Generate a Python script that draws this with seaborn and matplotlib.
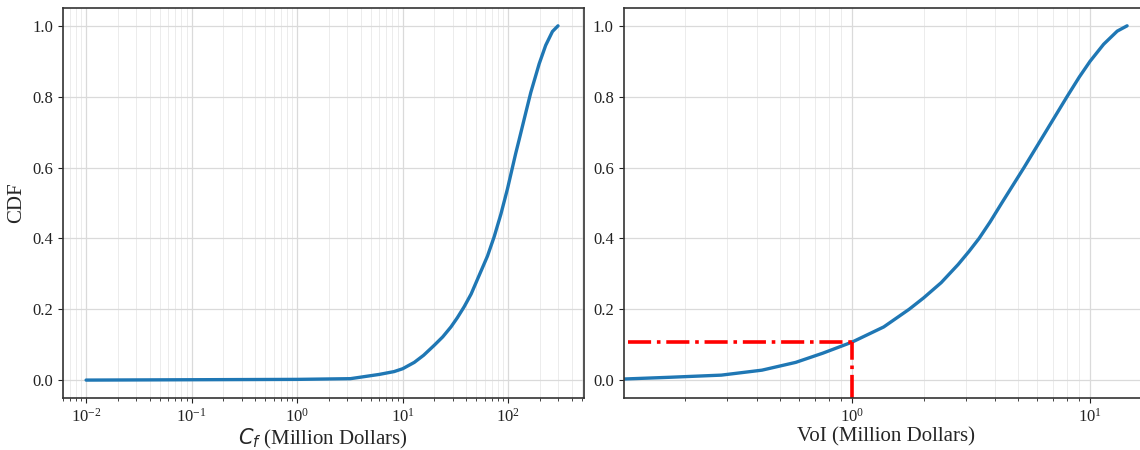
import numpy as np
import pandas as pd
import matplotlib
matplotlib.use("Agg")
import matplotlib.pyplot as plt
import seaborn as sns

# Values
cf_values = [0.01, 0.1, 1.0, 3.2, 6.0, 8.3, 10.0, 12.9, 15.8, 19.9, 24.0, 28.7, 33.0,
             38.3, 44.6, 51.3, 63.7, 73.8, 85.3, 98.6, 118, 127, 147, 164, 197, 227,
             263, 297]
cf_cdf = [0.0, 0.001, 0.002, 0.004, 0.016, 0.024, 0.032, 0.050, 0.070, 0.098, 0.122,
          0.150, 0.176, 0.207, 0.243, 0.285, 0.350, 0.405, 0.468, 0.540, 0.640, 0.678,
          0.755, 0.812, 0.893, 0.945, 0.984, 1.0]

voi_values = [0.110, 0.173, 0.283, 0.419, 0.581, 0.755, 1.0, 1.36, 1.74, 2.0, 2.37,
              2.79, 3.1, 3.42, 3.8, 4.25, 5.28, 6.50, 8.00, 9.02, 10.0, 11.4, 13.0, 14.3]
voi_cdf = [0.003, 0.008, 0.014, 0.028, 0.050, 0.076, 0.107, 0.150, 0.200, 0.232, 0.275,
           0.326, 0.363, 0.400, 0.446, 0.499, 0.600, 0.700, 0.800, 0.856, 0.900, 0.948,
           0.985, 1.0]

voi_mark = 1.0
voi_mark_cdf = 0.107

df_cf = pd.DataFrame({"x": cf_values, "cdf": cf_cdf})
df_voi = pd.DataFrame({"x": voi_values, "cdf": voi_cdf})

sns.set_style("ticks")
plt.rcParams["font.family"] = ["Liberation Serif", "DejaVu Serif"]
plt.rcParams["mathtext.fontset"] = "dejavusans"

fig = plt.figure(figsize=(11.4, 4.5), dpi=100)
ax1 = fig.add_axes([0.055, 0.116, 0.457, 0.866])
ax2 = fig.add_axes([0.547, 0.116, 0.46, 0.866])

blue = "#1f77b4"

for ax in (ax1, ax2):
    ax.set_xscale("log")
    ax.grid(which="major", color="#dadada", linewidth=0.9)
    ax.grid(which="minor", axis="x", color="#ececec", linewidth=0.7)
    ax.set_axisbelow(True)
    for s in ax.spines.values():
        s.set_color("#333333")
        s.set_linewidth(1.2)
    ax.tick_params(labelsize=12, colors="#222222")
    ax.set_ylim(-0.05, 1.05)
    ax.set_yticks([0.0, 0.2, 0.4, 0.6, 0.8, 1.0])

# Left: C_f CDF
sns.lineplot(data=df_cf, x="x", y="cdf", ax=ax1, color=blue, linewidth=2.4)
ax1.set_xlim(0.006, 520)
ax1.set_xlabel("$C_f$ (Million Dollars)", fontsize=15, labelpad=1)
ax1.set_ylabel("CDF", fontsize=15)

# Right: VoI CDF
sns.lineplot(data=df_voi, x="x", y="cdf", ax=ax2, color=blue, linewidth=2.4)
ax2.set_xlim(voi_values[0], 17.5)
ax2.set_xlabel("VoI (Million Dollars)", fontsize=15, labelpad=1)
ax2.set_ylabel("")
ax2.plot([0.115, voi_mark], [voi_mark_cdf, voi_mark_cdf], color="red",
         linestyle="-.", linewidth=2.6)
ax2.plot([voi_mark, voi_mark], [-0.05, voi_mark_cdf], color="red",
         linestyle="-.", linewidth=2.6)

fig.savefig("out.png", dpi=100)
